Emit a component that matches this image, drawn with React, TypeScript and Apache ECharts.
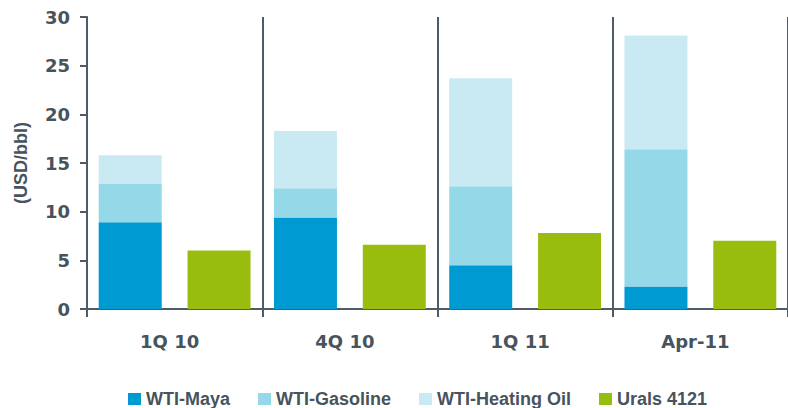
import React, { useEffect, useRef } from "react";
import * as echarts from "echarts";

const categories = ["1Q 10", "4Q 10", "1Q 11", "Apr-11"];
const wtiMaya = [8.9, 9.4, 4.5, 2.3];
const wtiGasoline = [4.0, 3.0, 8.1, 14.1];
const wtiHeatingOil = [2.9, 5.9, 11.1, 11.7];
const urals4121 = [6.0, 6.6, 7.8, 7.0];
const yTicks = { min: 0, max: 30, interval: 5 };

const TEXT = "#47535d";
const AXIS = "#4f5b66";
const FONT = "'Liberation Sans', Arial, sans-serif";
const AXFONT = "'DejaVu Sans', sans-serif";

export default function App() {
  const ref = useRef<HTMLDivElement>(null);
  useEffect(() => {
    if (!ref.current) return;
    const chart = echarts.init(ref.current, undefined, { renderer: "svg" });
    const bar = (name: string, data: number[], color: string, stack?: string) => ({
      name,
      type: "bar",
      data,
      stack,
      barWidth: 63,
      barGap: "41%",
      itemStyle: { color },
    });
    chart.setOption({
      animation: false,
      textStyle: { fontFamily: FONT },
      grid: { left: 87, right: -4, top: 17, bottom: 99, containLabel: false },
      legend: {
        left: 123,
        top: 385,
        icon: "rect",
        itemWidth: 13,
        itemHeight: 12,
        itemGap: 28,
        textStyle: { fontSize: 18, fontWeight: "bold", color: TEXT, fontFamily: FONT },
        data: ["WTI-Maya", "WTI-Gasoline", "WTI-Heating Oil", "Urals 4121"],
      },
      xAxis: {
        type: "category",
        data: categories,
        axisLine: { lineStyle: { color: AXIS, width: 2 } },
        axisTick: { show: true, length: 8, lineStyle: { color: AXIS, width: 2 } },
        splitLine: { show: true, lineStyle: { color: AXIS, width: 2 } },
        axisLabel: {
          fontSize: 18,
          fontWeight: "bold",
          color: TEXT,
          fontFamily: AXFONT,
          margin: 23,
          padding: [0, 10, 0, 0],
        },
      },
      yAxis: {
        type: "value",
        min: yTicks.min,
        max: yTicks.max,
        interval: yTicks.interval,
        name: "(USD/bbl)",
        nameLocation: "middle",
        nameRotate: 90,
        nameGap: 57,
        nameTextStyle: { fontSize: 18, fontWeight: "bold", color: TEXT, fontFamily: FONT },
        axisLine: { show: true, lineStyle: { color: AXIS, width: 2 } },
        axisTick: { show: true, length: 7, lineStyle: { color: AXIS, width: 2 } },
        splitLine: { show: false },
        axisLabel: { fontSize: 18, fontWeight: "bold", color: TEXT, fontFamily: AXFONT, margin: 17 },
      },
      series: [
        bar("WTI-Maya", wtiMaya, "#009ad3", "wti"),
        bar("WTI-Gasoline", wtiGasoline, "#95d8e8", "wti"),
        bar("WTI-Heating Oil", wtiHeatingOil, "#c9eaf3", "wti"),
        bar("Urals 4121", urals4121, "#99bd0f"),
      ],
    });
    return () => chart.dispose();
  }, []);
  return (
    <div
      ref={ref}
      style={{ position: "fixed", left: 0, top: 0, width: 788, height: 408, background: "#fff" }}
    />
  );
}
